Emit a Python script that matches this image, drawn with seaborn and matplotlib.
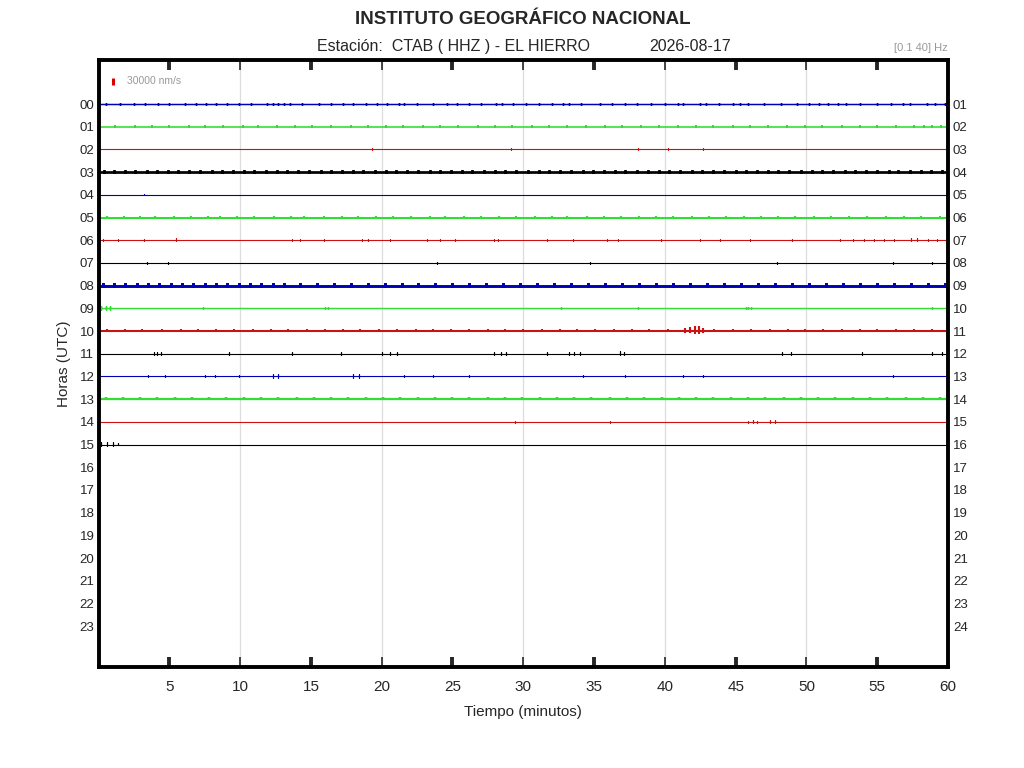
import numpy as np
import pandas as pd
import matplotlib
matplotlib.use("Agg")
import matplotlib.pyplot as plt
import seaborn as sns

sns.set_style("white")
plt.rcParams['font.family'] = ['Liberation Sans', 'DejaVu Sans']

# --- datos del sismograma ---
horas = list(range(16))
etiquetas_izq = ["%02d" % h for h in range(24)]
etiquetas_der = ["%02d" % (h + 1) for h in range(24)]
colores_ciclo = ["#0000b4", "#33dd33", "#cc1111", "#000000"]

# nivel de ruido de fondo por hora (nm/s)
ruido_nms = [1200, 1500, 300, 4000, 300, 2500, 300, 300,
             4500, 1000, 2500, 300, 300, 3000, 300, 300]
# amplitud tipica de los picos pequenos por hora (nm/s)
amp_picos = [6000, 6000, 4500, 10000, 4000, 8000, 5000, 5000,
             10000, 5000, 8000, 6000, 6000, 8000, 5000, 6000]

picos_00 = [0.5, 1.5, 2.5, 3.3, 4.2, 5.0, 6.1, 6.9, 7.6, 8.3, 9.1, 9.9, 10.8, 11.9, 12.3,
            12.7, 13.1, 13.5, 14.4, 15.6, 16.4, 17.3, 18.0, 18.9, 19.7, 20.4, 21.2, 21.6,
            22.5, 23.6, 24.6, 25.3, 26.2, 27.0, 28.1, 28.5, 29.3, 30.2, 31.1, 32.0, 32.8,
            33.2, 34.1, 35.4, 36.3, 37.2, 38.0, 39.0, 40.0, 40.9, 41.3, 42.5, 42.9, 43.8,
            44.8, 45.3, 45.9, 47.0, 48.2, 49.3, 50.2, 50.9, 51.5, 52.2, 52.8, 53.8, 55.0,
            56.0, 56.8, 57.3, 58.5, 59.1, 59.8]
picos_01 = [1.2, 2.6, 3.8, 5.0, 6.4, 7.5, 8.8, 10.2, 11.3, 12.6, 13.9, 15.1, 16.4, 17.8,
            19.0, 20.3, 21.5, 22.9, 24.1, 25.4, 26.8, 28.0, 29.2, 30.6, 31.8, 33.1, 34.4,
            35.8, 37.0, 38.3, 39.6, 40.9, 42.2, 43.4, 44.8, 46.0, 47.3, 48.6, 49.9, 51.1,
            52.5, 53.8, 55.0, 56.3, 57.6, 58.3, 58.9, 59.5]
picos_02 = [19.3, 29.1, 38.1, 40.2, 42.7]
picos_03 = [0.4, 1.1, 1.9, 2.6, 3.4, 4.1, 4.9, 5.6, 6.4, 7.2, 8.0, 8.7, 9.5, 10.3, 11.0,
            11.8, 12.6, 13.3, 14.1, 14.9, 15.7, 16.4, 17.2, 18.0, 18.7, 19.5, 20.3, 21.0,
            21.8, 22.6, 23.4, 24.1, 24.9, 25.7, 26.4, 27.2, 28.0, 28.7, 29.5, 30.3, 31.1,
            31.8, 32.6, 33.4, 34.2, 34.9, 35.7, 36.5, 37.2, 38.0, 38.8, 39.6, 40.3, 41.1,
            41.9, 42.6, 43.4, 44.2, 45.0, 45.7, 46.5, 47.3, 48.0, 48.8, 49.6, 50.4, 51.1,
            51.9, 52.7, 53.4, 54.2, 55.0, 55.8, 56.5, 57.3, 58.1, 58.8, 59.6]
picos_04 = [3.2]
picos_05 = [0.6, 1.8, 2.9, 4.0, 5.3, 6.5, 7.7, 8.6, 9.8, 11.0, 12.4, 13.6, 14.5, 15.9,
            17.2, 18.3, 19.6, 20.8, 22.1, 23.4, 24.5, 25.8, 27.0, 28.3, 29.5, 30.8, 32.0,
            33.1, 34.5, 35.7, 36.9, 38.2, 39.4, 40.6, 41.9, 43.1, 44.3, 45.6, 46.8, 48.0,
            49.2, 50.5, 51.7, 53.0, 54.3, 55.6, 56.9, 58.1, 59.4]
picos_06 = [0.3, 1.4, 3.2, 13.7, 14.2, 15.9, 18.6, 19.0, 20.6, 23.2, 24.1, 25.2, 27.9,
            28.2, 31.7, 33.5, 35.9, 36.7, 39.7, 42.5, 43.9, 46.0, 49.0, 52.4, 53.3, 54.1,
            54.8, 55.5, 56.2, 58.6, 59.2]
picos_07 = [3.4, 4.9, 23.9, 34.7, 47.9, 56.1, 58.9]
picos_08 = [0.3, 1.1, 1.9, 2.7, 3.5, 4.3, 5.1, 5.9, 6.7, 7.5, 8.3, 9.1, 9.9, 10.7, 11.5,
            12.3, 13.1, 14.2, 15.4, 16.6, 17.8, 19.0, 20.2, 21.4, 22.6, 23.8, 25.0, 26.2,
            27.4, 28.6, 29.8, 31.0, 32.2, 33.4, 34.6, 35.8, 37.0, 38.2, 39.4, 40.6, 41.8,
            43.0, 44.2, 45.4, 46.6, 47.8, 49.0, 50.2, 51.4, 52.6, 53.8, 55.0, 56.2, 57.4,
            58.6, 59.8]
picos_09 = [7.4, 16.0, 16.2, 32.7, 38.1, 45.7, 45.9, 58.9]
picos_10 = [0.6, 1.9, 3.1, 4.5, 5.8, 7.0, 8.3, 9.6, 10.9, 12.2, 13.4, 14.7, 16.0, 17.3,
            18.5, 19.8, 21.1, 22.4, 23.6, 24.9, 26.2, 27.5, 28.7, 30.0, 31.3, 32.6, 33.8,
            35.1, 36.4, 37.7, 38.9, 40.2, 43.5, 44.8, 46.1, 47.4, 48.7, 49.9, 51.2, 52.5,
            53.8, 55.0, 56.3, 57.6, 58.9]
picos_11 = [3.9, 9.2, 13.7, 17.1, 20.0, 20.6, 21.1, 27.9, 28.4, 28.8, 31.7, 33.2, 33.6,
            34.0, 53.9, 58.9, 59.6]
picos_12 = [3.5, 4.7, 7.5, 8.2, 9.9, 21.6, 23.6, 26.2, 34.2, 37.2, 41.3, 42.7, 56.1]
picos_13 = [0.5, 1.7, 2.9, 4.1, 5.4, 6.6, 7.8, 9.0, 10.3, 11.5, 12.7, 14.0, 15.2, 16.4,
            17.6, 18.9, 20.1, 21.3, 22.6, 23.8, 25.0, 26.2, 27.5, 28.7, 29.9, 31.2, 32.4,
            33.6, 34.8, 36.1, 37.3, 38.5, 39.8, 41.0, 42.2, 43.4, 44.7, 45.9, 47.1, 48.4,
            49.6, 50.8, 52.0, 53.3, 54.5, 55.7, 57.0, 58.2, 59.4]
picos_14 = [29.4, 36.1, 45.9, 46.5]
picos_15 = []

# eventos mayores: (hora, minuto, nm/s)
eventos = [(6, 5.5, 9000), (6, 57.4, 8000), (6, 57.8, 8000),
           (9, 0.2, 12000), (9, 0.5, 12000), (9, 0.8, 10000), (9, 46.1, 8000),
           (10, 41.4, 12000), (10, 41.8, 16000), (10, 42.1, 22000), (10, 42.4, 20000),
           (10, 42.7, 12000),
           (11, 4.1, 9000), (11, 4.4, 8000), (11, 36.8, 10000), (11, 37.1, 9000),
           (11, 48.3, 7000), (11, 48.9, 7000),
           (12, 12.3, 9000), (12, 12.7, 9000), (12, 18.0, 9000), (12, 18.4, 10000),
           (14, 46.2, 8000), (14, 47.4, 10000), (14, 47.8, 10000),
           (15, 0.2, 10000), (15, 0.6, 10000), (15, 1.0, 9000), (15, 1.4, 7000)]

escala_nms = 30000
nms_por_fila = 100000.0

picos = [picos_00, picos_01, picos_02, picos_03, picos_04, picos_05, picos_06, picos_07,
         picos_08, picos_09, picos_10, picos_11, picos_12, picos_13, picos_14, picos_15]

# --- construir las trazas ---
filas = []
for h in horas:
    marcas = [(t, amp_picos[h]) for t in picos[h]]
    marcas += [(t, a) for (hh, t, a) in eventos if hh == h]
    marcas.sort()
    etiqueta = etiquetas_izq[h]
    filas.append((etiqueta, 0.0, h, ruido_nms[h]))
    for t, a in marcas:
        d = a / nms_por_fila
        filas.append((etiqueta, t, h, ruido_nms[h]))
        filas.append((etiqueta, t, h - d, ruido_nms[h]))
        filas.append((etiqueta, t, h + 0.6 * d, ruido_nms[h]))
        filas.append((etiqueta, t, h, ruido_nms[h]))
    filas.append((etiqueta, 60.0, h, ruido_nms[h]))
df = pd.DataFrame(filas, columns=["hora", "minuto", "y", "ruido"])

paleta = {etiquetas_izq[h]: colores_ciclo[h % 4] for h in horas}

fig = plt.figure(figsize=(10.24, 7.68), dpi=100)
ax = fig.add_axes([0.0962, 0.1315, 0.8296, 0.7904])

for m in [10, 20, 30, 40, 50]:
    ax.axvline(m, color="#dddddd", lw=0.9, zorder=0)

sns.lineplot(data=df, x="minuto", y="y", hue="hora", size="ruido", sizes=(0.8, 2.1),
             palette=paleta, estimator=None, sort=False, legend=False, ax=ax, zorder=2,
             solid_joinstyle="bevel", solid_capstyle="butt")

# barra de escala
ax.plot([1.0, 1.0], [-1.0 - escala_nms / nms_por_fila / 2, -1.0 + escala_nms / nms_por_fila / 2],
        color="#dd0000", lw=2.2, solid_capstyle="butt")
ax.text(2.0, -1.0, "30000 nm/s", color="#999999", fontsize=7.5, va="center", ha="left")

ax.set_xlim(0, 60)
ax.set_ylim(24.8, -1.94)
ax.set_xticks([5, 15, 25, 35, 45, 55], labels=["5", "15", "25", "35", "45", "55"])
ax.set_xticks([10, 20, 30, 40, 50, 60], labels=["10", "20", "30", "40", "50", "60"], minor=True)
ax.tick_params(axis="x", which="major", direction="in", top=True, bottom=True,
               length=7, width=2.8, labelsize=11, pad=9)
ax.tick_params(axis="x", which="minor", direction="in", top=True, bottom=True,
               length=7, width=1.2, labelsize=11, pad=9)
ax.set_yticks(range(24), labels=etiquetas_izq)
ax.tick_params(axis="y", length=0, labelsize=9.5, pad=3)
ax.set_xlabel("Tiempo (minutos)", fontsize=11, labelpad=8)
ax.set_ylabel("Horas (UTC)", fontsize=11, labelpad=6)
for s in ax.spines.values():
    s.set_linewidth(2.8)
    s.set_color("black")

ax2 = ax.twinx()
ax2.set_ylim(24.8, -1.94)
ax2.set_yticks(range(24), labels=etiquetas_der)
ax2.tick_params(axis="y", length=0, labelsize=9.5, pad=3.5)
for s in ax2.spines.values():
    s.set_visible(False)

fig.text(0.511, 0.974, "INSTITUTO GEOGRÁFICO NACIONAL", ha="center", va="center",
         fontsize=13.5, fontweight="bold")
fig.text(0.443, 0.940, "Estación:  CTAB ( HHZ ) - EL HIERRO", ha="center", va="center",
         fontsize=11.5)
fig.text(0.674, 0.940, "2026-08-17", ha="center", va="center", fontsize=11.5)
fig.text(0.926, 0.937, "[0.1 40] Hz", ha="right", va="center", fontsize=8, color="#999999")

fig.savefig("out.png", dpi=100)
